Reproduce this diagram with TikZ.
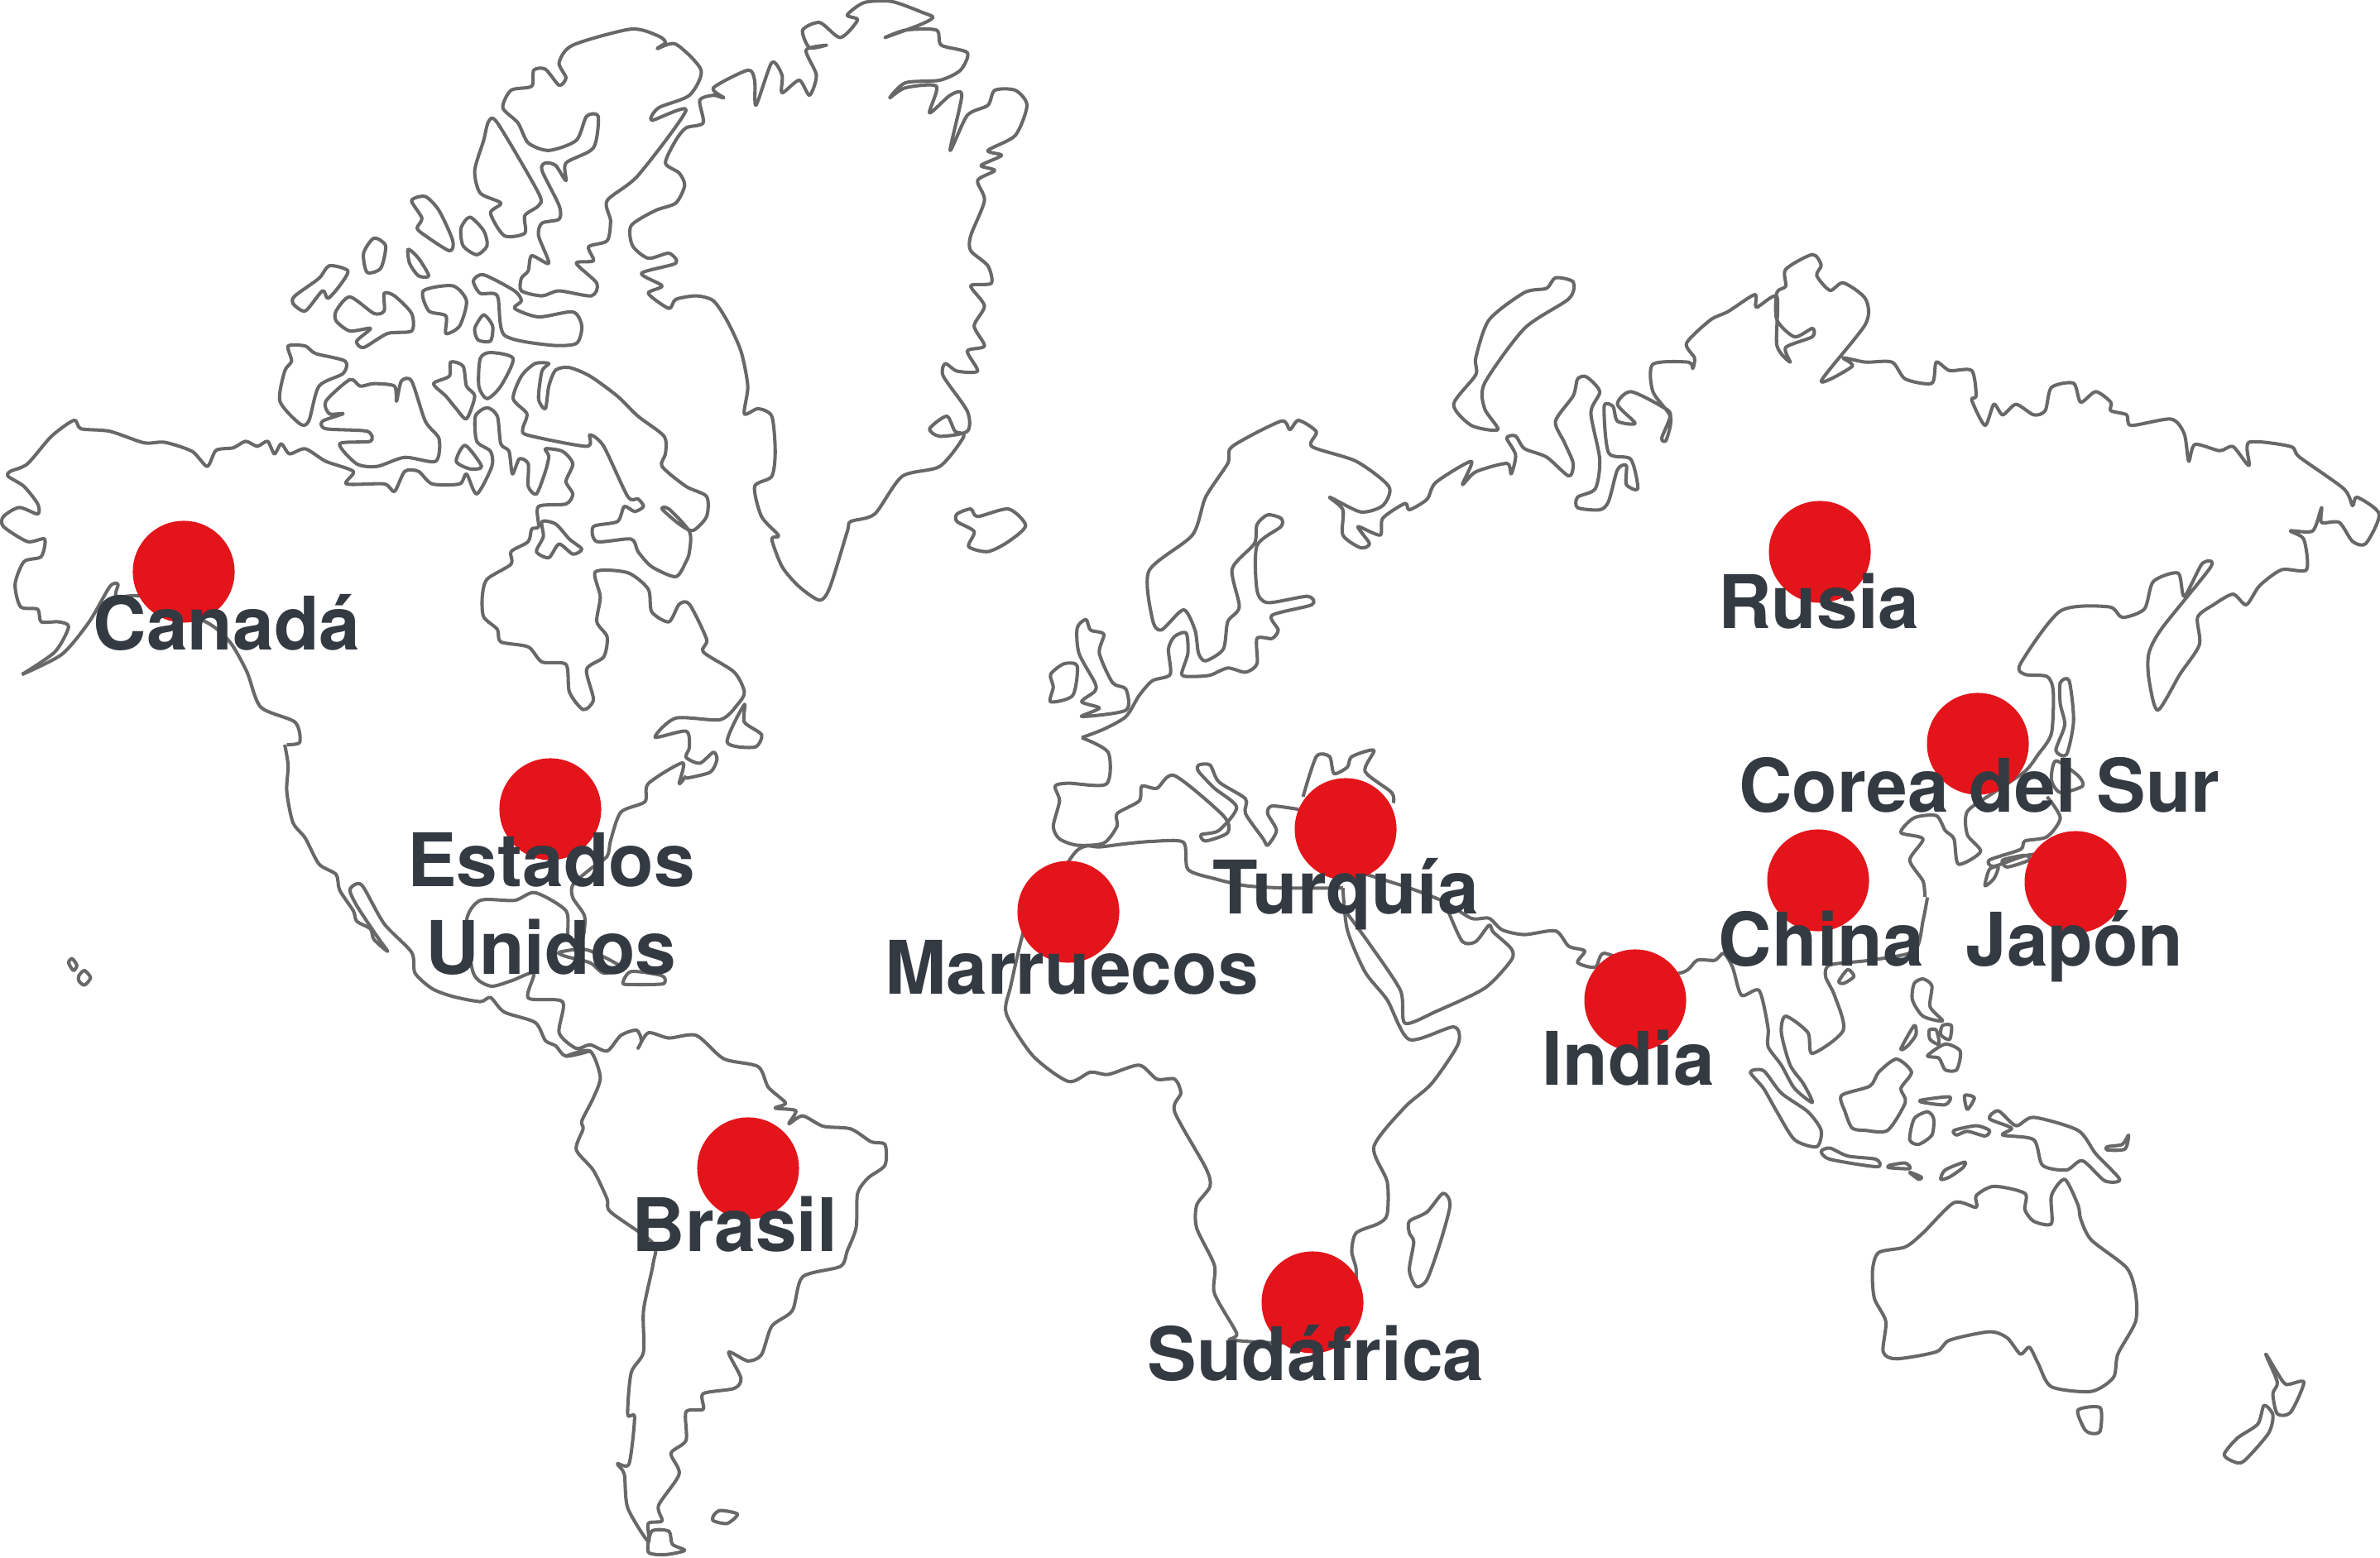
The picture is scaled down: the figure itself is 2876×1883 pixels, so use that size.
\documentclass[tikz,border=0pt]{standalone}
\usepackage{fontspec}
\setmainfont{TeX Gyre Heros}
\definecolor{coastgray}{HTML}{686868}
\definecolor{spotred}{HTML}{E4141B}
\definecolor{placeink}{HTML}{343A42}
\tikzset{
  coast/.style = {draw=coastgray,line width=1.15pt,line join=round},
  spot/.style = {circle,fill=spotred,minimum size=1.23cm,inner sep=0pt},
  place/.style = {text=placeink,anchor=base,align=center,inner sep=0pt,
    font=\fontsize{25.4}{30}\selectfont\bfseries},
  zonenw/.style = {shift={(0,0)},x=0.00829cm,y=-0.006059cm},
  zonene/.style = {shift={(1200,300)},x=0.010689cm,y=-0.005102cm},
  zonesw/.style = {shift={(0,900)},x=0.00829cm,y=-0.006269cm},
  zonese/.style = {shift={(1200,1000)},x=0.010689cm,y=-0.005631cm}
}
\newcommand{\shore}[1]{\draw[coast] plot[smooth,tension=0.45] coordinates {#1};}
\newcommand{\isle}[1]{\draw[coast] plot[smooth cycle,tension=0.45] coordinates {#1};}

\begin{document}
\begin{tikzpicture}[x=0.01cm,y=-0.01cm]
  \useasboundingbox (0,0) rectangle (2876,1883);

  % north america and the arctic
  \begin{scope}[zonenw]
    \isle{(1195,1197) (1165,1170) (1140,1130) (1125,1075) (1135,1068) (1110,1030) (1100,970) (1125,950) (1130,900) (1125,830) (1105,815) (1085,825) (1090,770) (1080,700) (1060,640) (1040,600) (1015,590) (985,597) (975,615) (945,585) (965,570) (935,545) (985,525) (975,505) (945,515) (922,490) (920,450) (955,420) (985,405) (998,370) (990,345) (970,325) (985,280) (1000,255) (1025,245) (1020,200) (1040,190) (1055,195) (1040,175) (1090,140) (1100,160) (1102,210) (1125,125) (1140,150) (1140,185) (1165,160) (1180,190) (1190,150) (1175,100) (1205,90) (1180,95) (1170,60) (1195,45) (1225,75) (1250,40) (1235,30) (1260,5) (1300,3) (1345,25) (1360,35) (1340,50) (1290,75) (1320,60) (1365,60) (1372,90) (1410,105) (1400,140) (1370,160) (1320,165) (1297,195) (1320,175) (1365,172) (1355,225) (1385,190) (1402,190) (1385,300) (1410,230) (1440,210) (1450,180) (1480,180) (1497,210) (1480,270) (1440,300) (1460,310) (1430,330) (1450,340) (1425,360) (1435,400) (1415,470) (1415,500) (1440,530) (1445,565) (1415,570) (1435,610) (1420,650) (1435,690) (1410,700) (1425,740) (1395,740) (1378,725) (1375,750) (1410,820) (1410,860) (1370,870) (1355,855) (1380,830) (1392,860) (1405,870) (1370,930) (1315,950) (1275,1025) (1240,1040) (1235,1060) (1210,1170)}
    \shore{(32,1345) (80,1300) (100,1250) (85,1240) (60,1240) (55,1215) (30,1210) (22,1165) (35,1120) (60,1110) (65,1075) (40,1080) (5,1050) (5,1030) (28,1012) (55,1025) (55,1005) (35,970) (12,950) (15,940) (40,925) (75,870) (108,838) (118,855) (160,860) (210,883) (240,882) (280,900) (302,930) (315,898) (340,893) (358,880) (375,890) (390,880) (400,905) (410,885) (422,905) (445,895) (475,920) (515,940) (505,965) (560,965) (575,980) (590,940) (610,940) (630,965) (670,965) (680,945) (695,985) (717,930) (715,900) (695,880) (693,830) (710,813) (725,830) (730,885) (742,900) (747,945) (757,915) (770,925) (770,970) (782,985) (795,940) (800,910) (795,895) (820,900) (835,925) (825,960) (835,985) (825,1005) (785,1010) (785,1050) (775,1055) (770,1080) (745,1100) (745,1125) (710,1155) (703,1190) (705,1230) (725,1255) (730,1280) (770,1290) (790,1320) (825,1325) (830,1380) (850,1415) (865,1395) (855,1335) (880,1310) (885,1270) (870,1240) (875,1190) (868,1140) (915,1142) (945,1175) (950,1220) (975,1240) (990,1205) (1005,1205) (1030,1275) (1025,1300) (1070,1340) (1085,1380) (1075,1405) (1050,1435) (985,1432) (955,1470) (1000,1458) (1005,1490) (1000,1510) (1020,1522) (1040,1500) (1045,1515) (1035,1540) (1000,1552)}
    \shore{(32,1345) (90,1305) (130,1240) (160,1170) (172,1165) (170,1190) (210,1190) (300,1240) (335,1280) (360,1340) (380,1410) (430,1440) (437,1480) (418,1485)}
    \isle{(1060,1480) (1085,1405) (1085,1440) (1110,1465) (1100,1490)}
    \isle{(790,1040) (810,1045) (830,1075) (848,1095) (835,1105) (815,1085) (800,1112) (782,1100) (792,1070)}
    \isle{(733,215) (745,180) (775,172) (778,140) (795,138) (815,170) (825,155) (815,125) (835,90) (920,58) (960,72) (970,85) (958,97) (985,88) (1022,140) (1005,190) (960,215) (950,240) (1000,220) (930,350) (885,400) (890,440) (885,480) (858,492) (865,520) (840,525) (870,565) (862,590) (815,580) (790,590) (760,580) (760,555) (770,540) (775,510) (800,525) (785,470) (790,445) (815,437) (815,410) (790,340) (795,325) (810,330) (825,360) (825,325) (865,295) (872,232) (855,232) (840,280) (800,300) (770,285) (755,245)}
    \isle{(712,243) (725,245) (785,385) (785,410) (765,430) (765,465) (735,470) (715,425) (730,405) (700,385) (692,340) (705,280)}
    \isle{(600,400) (620,392) (640,420) (660,480) (655,500) (620,470) (608,455) (615,435)}
    \isle{(672,455) (685,433) (705,460) (710,490) (695,508) (675,490)}
    \isle{(530,505) (545,475) (562,490) (555,535) (535,543)}
    \isle{(595,497) (610,515) (625,550) (610,550) (597,525)}
    \isle{(430,590) (465,555) (480,530) (507,540) (495,570) (478,595) (470,580) (445,620) (427,605)}
    \isle{(490,620) (510,592) (545,625) (560,620) (560,585) (575,590) (600,625) (600,660) (565,665) (530,693) (520,680) (540,655) (510,660) (490,640)}
    \isle{(617,580) (660,570) (680,600) (670,650) (650,665) (650,630) (625,620)}
    \isle{(690,560) (705,548) (750,580) (760,600) (750,615) (785,632) (835,622) (848,650) (840,685) (800,688) (735,668) (725,590) (700,585)}
    \isle{(692,655) (705,628) (718,650) (715,680) (697,678)}
    \isle{(420,690) (445,690) (460,705) (503,720) (500,745) (465,770) (450,840) (437,845) (408,800) (415,740) (425,720)}
    \isle{(475,800) (510,757) (525,770) (545,765) (575,770) (578,800) (585,760) (600,760) (620,840) (640,875) (635,920) (590,912) (550,930) (520,925) (495,885) (540,880) (535,860) (475,855) (470,840) (500,825) (480,825)}
    \isle{(632,765) (655,750) (657,722) (675,730) (680,770) (692,790) (680,835) (665,815) (650,790)}
    \isle{(700,715) (715,703) (748,715) (730,770) (710,795) (698,770)}
    \isle{(665,920) (678,888) (702,930) (685,935)}
    \isle{(748,795) (760,750) (780,725) (800,725) (790,740) (785,795) (795,815) (800,770) (810,738) (830,733) (860,750) (900,790) (930,830) (968,870) (970,905) (965,930) (1000,970) (1030,990) (1030,1030) (1010,1058) (990,1045) (965,1015) (975,1015) (1005,1060) (1005,1100) (1000,1120) (985,1150) (950,1130) (930,1100) (920,1075) (870,1080) (865,1050) (900,1040) (910,1010) (925,1020) (938,1010) (930,995) (915,990) (880,890) (860,867) (855,890) (770,868) (762,855) (768,825)}
    \isle{(1395,1025) (1415,1015) (1425,1030) (1470,1015) (1495,1048) (1470,1080) (1440,1100) (1412,1090) (1420,1060) (1395,1040)}
  \end{scope}

  % central and south america
  \begin{scope}[zonesw]
    \shore{(415,0) (420,40) (418,90) (427,150) (445,180) (465,230) (490,250) (495,280) (515,320) (520,340) (540,355) (545,375) (565,398) (550,370) (520,310) (510,280) (520,268) (530,275) (560,345) (600,400) (605,440) (630,470) (660,485) (700,495) (715,487) (735,515) (780,535) (795,570) (810,580) (825,600) (860,590)}
    \shore{(1000,60) (990,75) (995,35) (945,75) (940,110) (905,130) (890,185) (885,215) (860,240) (835,270) (835,295) (852,330) (850,370) (840,390) (828,370) (825,320) (780,285) (750,300) (700,300) (680,340) (690,440) (715,465) (745,455) (778,440) (770,488) (820,495) (815,555) (840,585) (860,578) (885,590) (905,560) (928,550) (935,570) (930,585) (945,555) (975,565) (1015,560) (1055,605) (1105,620) (1120,660) (1145,690) (1130,700) (1160,705) (1150,730) (1170,715) (1200,735) (1240,740) (1270,765) (1290,770) (1290,810) (1265,835) (1250,865) (1248,930) (1235,975) (1225,1005) (1170,1025) (1155,1090) (1125,1120) (1110,1175) (1090,1187) (1062,1170) (1080,1220) (1070,1240) (1025,1250) (1025,1280) (1000,1285) (1000,1340) (978,1365) (990,1405) (960,1465) (965,1495) (945,1500) (945,1535) (915,1470) (910,1405) (900,1385) (917,1385) (925,1295) (915,1290) (920,1210) (938,1170) (938,1090) (952,1000) (952,960) (890,900) (885,875) (865,820) (840,780) (850,740) (848,725) (865,680) (875,640) (860,590) (825,600)}
    \isle{(815,400) (855,395) (905,428) (880,440) (860,420) (825,408)}
    \isle{(908,460) (920,437) (965,445) (968,460) (945,462) (925,462)}
    \isle{(100,420) (105,412) (112,425) (107,435)}
    \isle{(115,445) (123,435) (132,449) (123,463) (115,455)}
    \isle{(950,1515) (975,1515) (980,1540) (998,1552) (970,1560) (945,1555)}
    \isle{(1040,1485) (1050,1475) (1075,1482) (1060,1500) (1040,1495)}
  \end{scope}

  % europe and asia
  \begin{scope}[zonene]
    \shore{(100,1160) (130,1195) (128,1270) (85,1268) (70,1275) (75,1310) (68,1370) (75,1400) (95,1415) (125,1410) (140,1370) (140,1340) (165,1310) (168,1275) (185,1280) (205,1250) (260,1345) (265,1385) (240,1405) (235,1390) (255,1380) (275,1325) (250,1280) (232,1240) (232,1225) (245,1225) (255,1265) (285,1305) (285,1340) (305,1400) (310,1415) (320,1380) (310,1340) (315,1322) (345,1330)}
    \shore{(350,1300) (365,1205) (380,1205) (385,1245) (400,1230) (405,1205) (430,1190) (420,1240) (450,1290) (452,1315)}
    \shore{(100,1160) (125,1140) (150,1110) (165,1060) (180,1025) (200,1010) (198,950) (205,920) (218,912) (220,960) (213,1010) (225,1015) (245,1012) (265,995) (285,1005) (298,985) (298,925) (315,925) (322,905) (315,870) (360,845) (355,825) (310,840) (298,810) (298,705) (325,660) (325,640) (310,632) (298,655) (295,700) (270,760) (278,850) (265,885) (260,950) (240,978) (232,960) (228,905) (215,857) (190,905) (180,880) (176,765) (225,680) (240,590) (265,510) (270,470) (325,410) (335,430) (345,408) (365,435) (360,470) (410,505) (447,565) (440,610) (415,625) (380,590) (395,620) (395,680) (415,710) (425,700) (412,660) (437,680) (440,640) (465,605) (470,620) (490,595) (500,555) (540,505) (530,560) (545,530) (580,510) (585,535) (590,490) (580,450) (590,445) (600,475) (625,495) (650,540) (655,510) (645,460) (635,410) (655,350) (660,310) (670,305) (685,340) (675,390) (685,500) (680,570) (660,590) (660,615) (685,620) (695,600) (705,525) (715,515) (715,560) (728,570) (720,500) (695,485) (690,375) (700,375) (705,410) (725,415) (705,370) (720,340) (755,375) (765,395) (755,450) (760,455) (765,400) (745,340) (745,275) (785,270) (790,285) (792,260) (783,225) (810,170) (830,150) (860,110) (862,140) (885,115) (885,230) (900,270) (895,235) (925,210) (925,190) (905,210) (885,170) (885,105) (895,90) (895,50) (925,15) (935,40) (930,65) (945,100) (960,82) (985,120) (985,180) (935,315) (970,280) (960,260) (985,270) (1015,270) (1030,310) (1060,320) (1065,270) (1080,290) (1105,290) (1110,350) (1105,360) (1120,420) (1130,370) (1140,395) (1155,370) (1175,395) (1188,385) (1195,330) (1220,320) (1228,365) (1245,340) (1262,365) (1262,385) (1280,395) (1285,420) (1330,405) (1345,440) (1350,505) (1357,465) (1385,480) (1400,470) (1418,515) (1418,460) (1465,470) (1475,495) (1525,570) (1535,610) (1540,590) (1565,630) (1550,700) (1535,695) (1520,650) (1500,650) (1500,615) (1490,670) (1465,670) (1480,690) (1483,762) (1455,762) (1430,800) (1415,845) (1400,820) (1378,845) (1360,875) (1362,940) (1340,1010) (1315,1095) (1305,1020) (1305,960) (1320,900) (1375,755) (1365,748) (1345,825) (1338,770) (1310,790) (1300,855) (1275,875) (1260,850) (1205,860) (1160,985) (1165,1010) (1190,1015) (1197,1050) (1195,1150) (1180,1200) (1165,1240) (1130,1290) (1100,1335) (1100,1390) (1115,1430) (1090,1460) (1085,1400) (1075,1380) (1065,1345) (1040,1350) (1025,1385) (1050,1400) (1035,1450) (1050,1500) (1052,1537)}
    \isle{(100,1110) (150,1095) (150,1045) (135,1030) (120,960) (125,915) (110,905) (105,880) (95,900) (97,960) (115,1030) (115,1050) (100,1075) (120,1090)}
    \isle{(65,1010) (80,985) (95,990) (90,1060) (65,1075) (68,1040)}
    \isle{(520,370) (545,300) (545,260) (560,170) (600,105) (625,95) (635,70) (655,80) (650,120) (600,190) (555,320) (555,380) (570,430) (540,420)}
    \isle{(1205,1030) (1215,1025) (1220,1120) (1212,1200) (1200,1190) (1210,1130) (1205,1080)}
    \isle{(1200,1215) (1225,1250) (1230,1275) (1205,1290) (1195,1260)}
    \shore{(1190,1300) (1205,1350) (1190,1395) (1165,1405) (1160,1425) (1125,1450) (1130,1465) (1165,1440) (1200,1430)}
  \end{scope}

  % africa, south east asia and oceania
  \begin{scope}[zonese]
    \shore{(395,130) (330,130) (285,125) (250,110) (220,90) (215,32) (180,30) (150,35) (120,42) (105,40) (90,60) (50,180) (35,220) (20,340) (15,400) (45,490) (85,545) (110,525) (130,530) (165,510) (185,540) (205,540) (212,570) (205,610) (240,730) (245,770) (230,810) (230,860) (250,940) (250,1000) (275,1085) (270,1100) (360,1100) (405,1000) (410,950) (405,910) (410,870) (435,850) (445,830) (445,760) (430,685) (465,600) (495,550) (525,465) (520,428) (470,455) (445,370) (420,310) (400,220) (395,130)}
    \shore{(400,185) (425,250) (460,350) (465,420) (500,395) (555,345) (585,285) (585,260) (565,225) (560,210) (545,245) (530,245) (515,185) (510,160)}
    \shore{(420,100) (470,130) (510,160) (540,195) (560,195) (575,220) (600,230) (635,222) (650,255) (668,265) (660,290) (680,300) (690,270) (730,300)}
    \shore{(730,330) (780,310) (795,285) (815,285) (825,270) (835,300) (845,360) (865,350) (875,430) (875,470) (890,510) (905,560) (925,590) (915,550) (900,510) (890,440) (895,405) (920,440) (925,485) (960,435) (950,360) (940,320) (945,295) (990,285) (1040,265) (1050,200) (1055,150)}
    \isle{(955,330) (965,305) (972,320) (960,335)}
    \isle{(1120,125) (1125,90) (1135,85) (1130,110)}
    \isle{(1140,70) (1165,60) (1170,70) (1145,85)}
    \isle{(855,525) (870,522) (890,570) (920,610) (935,650) (930,685) (905,670) (885,610) (870,560)}
    \isle{(935,695) (945,688) (965,705) (997,712) (998,728) (945,712)}
    \isle{(1012,725) (1030,720) (1035,732) (1012,730)}
    \isle{(1035,740) (1048,750) (1045,755)}
    \isle{(1070,755) (1075,735) (1097,718) (1095,730) (1080,750)}
    \isle{(958,575) (990,555) (1000,525) (1020,497) (1037,525) (1025,560) (1030,590) (1010,650) (985,650) (970,645) (962,610)}
    \isle{(1040,335) (1050,325) (1060,340) (1058,385) (1072,415) (1050,405) (1038,370)}
    \isle{(1055,490) (1075,465) (1092,480) (1088,520) (1075,520) (1068,495)}
    \isle{(1025,475) (1040,425) (1042,445) (1032,470)}
    \isle{(1057,435) (1065,435) (1068,465) (1058,455)}
    \isle{(1072,425) (1082,425) (1080,455) (1070,445)}
    \isle{(1040,625) (1055,610) (1062,625) (1060,660) (1045,680) (1035,670)}
    \isle{(1048,585) (1080,578) (1075,595) (1050,590)}
    \isle{(1097,575) (1108,580) (1100,605)}
    \isle{(1085,650) (1110,640) (1125,650) (1120,662) (1100,652) (1088,660)}
    \isle{(1125,625) (1135,608) (1155,640) (1175,622) (1225,650) (1245,700) (1272,755) (1255,758) (1230,715) (1212,735) (1185,725) (1175,670) (1140,660) (1150,645)}
    \isle{(1258,685) (1275,680) (1282,660) (1278,690) (1258,692)}
    \isle{(470,845) (490,825) (508,785) (516,810) (505,890) (490,970) (478,985) (470,950) (475,890) (470,870)}
    \isle{(1210,755) (1195,790) (1195,850) (1175,845) (1165,820) (1165,785) (1130,770) (1110,790) (1110,815) (1085,805) (1050,870) (1030,900) (1000,912) (993,950) (995,1010) (1008,1060) (1005,1125) (1020,1140) (1065,1125) (1080,1100) (1125,1082) (1145,1095) (1160,1130) (1170,1115) (1180,1150) (1195,1200) (1240,1210) (1265,1180) (1270,1130) (1290,1060) (1290,1000) (1280,945) (1240,885) (1228,840) (1225,810)}
    \isle{(1225,1250) (1250,1245) (1250,1295) (1240,1300) (1232,1290)}
    \isle{(1437,1130) (1450,1170) (1460,1195) (1480,1190) (1465,1255) (1450,1258) (1445,1215) (1450,1190)}
    \isle{(1435,1240) (1445,1260) (1440,1300) (1412,1360) (1400,1360) (1390,1345) (1405,1310) (1428,1280)}
  \end{scope}

  % dots
  \foreach \name/\X/\Y in {canada/222/691,usa/665/978,brasil/904/1412,marruecos/1291/1102,turquia/1626/1002,rusia/2199/667,corea/2390/899,china/2197/1064,japon/2508/1066,india/1976/1209,sudafrica/1586/1574} {%
    \node[spot] (dot\name) at (\X,\Y) {};
  }

  % labels
  \foreach \name/\X/\Y/\txt in {canada/274/786/Canadá,usa/666/1177/{Estados\\Unidos},brasil/888/1512/Brasil,marruecos/1295/1202/Marruecos,turquia/1626/1104/Turquía,rusia/2198/760/Rusia,corea/2392/982/Corea del Sur,china/2201/1168/China,japon/2507/1168/Japón,india/1968/1311/India,sudafrica/1590/1668/Sudáfrica} {%
    \node[place] (label\name) at (\X,\Y) {\txt};
  }
\end{tikzpicture}
\end{document}
